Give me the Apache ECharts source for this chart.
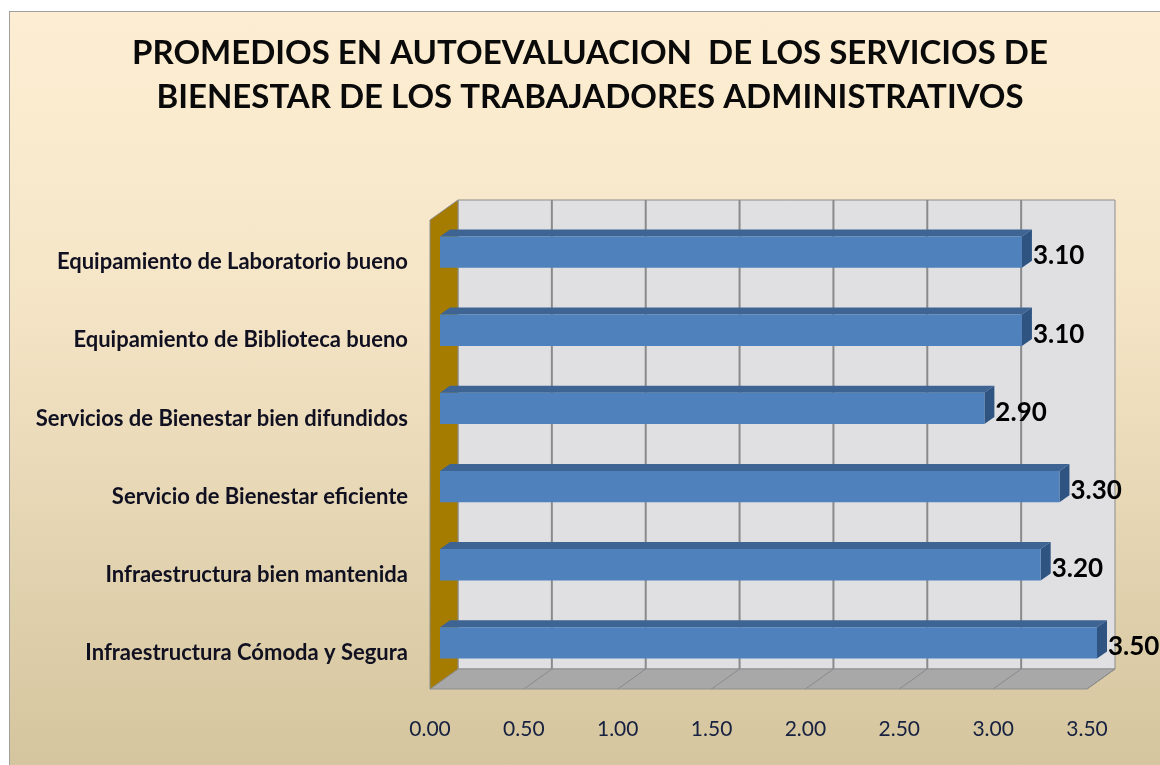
<!DOCTYPE html>
<html>
<head>
<meta charset="utf-8">
<script src="https://cdn.jsdelivr.net/npm/echarts@6/dist/echarts.min.js"></script>
<style>
    html, body { margin: 0; padding: 0; background: #fff; }
    .frame {
        position: absolute; left: 9px; top: 11px; width: 1160px; height: 770px;
        border: 1px solid #a0a0a0;
        background: linear-gradient(to bottom, #fdeed3 0%, #f6e6c8 35%, #d3c49d 100%);
    }
    #main { position: absolute; left: 0; top: 0; width: 1160px; height: 765px; }
</style>
</head>
<body>
<div class="frame"></div>
<div id="main"></div>
<script>
// categories from bottom to top (category axis draws the first one at the bottom)
var categories = [
    'Infraestructura Cómoda y Segura',
    'Infraestructura bien mantenida',
    'Servicio de Bienestar eficiente',
    'Servicios de Bienestar bien difundidos',
    'Equipamiento de Biblioteca bueno',
    'Equipamiento de Laboratorio bueno'
]
var promedios = [3.5, 3.2, 3.3, 2.9, 3.1, 3.1]
var xTicks = [0, 0.5, 1, 1.5, 2, 2.5, 3, 3.5]

// 3d offsets: back wall and front floor edge relative to the bar plane
var BACK = [18, -13]
var FRONT = [-10, 7]
var BAR_DEPTH = [10, -7]

function renderWalls(params, api) {
    var cs = params.coordSys
    var left = cs.x, right = cs.x + cs.width, top = cs.y, bottom = cs.y + cs.height
    var children = []
    // back wall
    children.push({
        type: 'polygon',
        shape: { points: [
            [left + BACK[0], top + BACK[1]], [right + BACK[0], top + BACK[1]],
            [right + BACK[0], bottom + BACK[1]], [left + BACK[0], bottom + BACK[1]]
        ] },
        style: { fill: '#e0e0e3', stroke: '#8c8c8c', lineWidth: 1 }
    })
    // floor
    children.push({
        type: 'polygon',
        shape: { points: [
            [left + FRONT[0], bottom + FRONT[1]], [right + FRONT[0], bottom + FRONT[1]],
            [right + BACK[0], bottom + BACK[1]], [left + BACK[0], bottom + BACK[1]]
        ] },
        style: { fill: '#a8a8a8', stroke: '#8f8f8f', lineWidth: 1 }
    })
    // grid lines on wall and floor
    xTicks.forEach(function(t) {
        var x = api.coord([t, 0])[0]
        if (t > 0 && t < xTicks[xTicks.length - 1]) {
            children.push({
                type: 'line',
                shape: { x1: x + BACK[0], y1: top + BACK[1], x2: x + BACK[0], y2: bottom + BACK[1] },
                style: { stroke: '#8a8a8a', lineWidth: 2 }
            })
        }
        if (t > 0) {
            children.push({
                type: 'line',
                shape: { x1: x + FRONT[0], y1: bottom + FRONT[1], x2: x + BACK[0], y2: bottom + BACK[1] },
                style: { stroke: '#8a8a8a', lineWidth: 1 }
            })
        }
    })
    // side wall (gold)
    children.push({
        type: 'polygon',
        shape: { points: [
            [left + FRONT[0], top + FRONT[1]], [left + BACK[0], top + BACK[1]],
            [left + BACK[0], bottom + BACK[1]], [left + FRONT[0], bottom + FRONT[1]]
        ] },
        style: { fill: '#a67c00', stroke: '#8a8a8a', lineWidth: 1 }
    })
    return { type: 'group', children: children }
}

function renderBar(params, api) {
    var idx = api.value(1)
    var start = api.coord([0, idx])
    var end = api.coord([api.value(0), idx])
    var h = api.size([0, 1])[1] * 0.4
    var x0 = start[0], x1 = end[0], yT = start[1] - h / 2, yB = start[1] + h / 2
    var dx = BAR_DEPTH[0], dy = BAR_DEPTH[1]
    return {
        type: 'group',
        children: [
            { type: 'polygon', shape: { points: [[x0, yT], [x1, yT], [x1 + dx, yT + dy], [x0 + dx, yT + dy]] },
                style: { fill: '#3d6493' } },
            { type: 'polygon', shape: { points: [[x1, yT], [x1 + dx, yT + dy], [x1 + dx, yB + dy], [x1, yB]] },
                style: { fill: '#2f5482' } },
            { type: 'rect', shape: { x: x0, y: yT, width: x1 - x0, height: h },
                style: { fill: '#4f81bd' } },
            { type: 'text', x: x1 + dx + 1, y: start[1] + 4,
                style: { text: api.value(0).toFixed(2), fill: '#000', font: 'bold 26px Lato',
                    verticalAlign: 'middle', align: 'left' } }
        ]
    }
}

var myChart = echarts.init(document.getElementById('main'))
var option = {
    animation: false,
    title: {
        text: 'PROMEDIOS EN AUTOEVALUACION  DE LOS SERVICIOS DE\nBIENESTAR DE LOS TRABAJADORES ADMINISTRATIVOS',
        left: 585,
        top: 26,
        textAlign: 'center',
        textStyle: { fontFamily: 'Lato', fontWeight: 'bold', fontSize: 33, lineHeight: 44, color: '#0a0a0a' }
    },
    grid: { left: 440, right: 63, top: 213, bottom: 83, containLabel: false },
    xAxis: {
        type: 'value',
        min: 0,
        max: 3.5,
        interval: 0.5,
        splitLine: { show: false },
        axisLine: { show: false },
        axisTick: { show: false },
        axisLabel: {
            margin: 37,
            padding: [0, 20, 0, 0],
            fontFamily: 'Lato',
            fontSize: 21,
            color: '#16203f',
            formatter: function(v) { return v.toFixed(2) }
        }
    },
    yAxis: {
        type: 'category',
        data: categories,
        axisLine: { show: false },
        axisTick: { show: false },
        splitLine: { show: false },
        axisLabel: {
            margin: 32,
            verticalAlign: 'top',
            lineHeight: 20,
            fontFamily: 'Lato',
            fontWeight: 'bold',
            fontSize: 22,
            color: '#101020'
        }
    },
    series: [
        {
            name: 'walls',
            type: 'custom',
            renderItem: renderWalls,
            data: [[0, 0]],
            silent: true,
            z: 1
        },
        {
            name: 'promedio',
            type: 'custom',
            renderItem: renderBar,
            encode: { x: 0, y: 1 },
            data: promedios.map(function(v, i) { return [v, i] }),
            z: 2
        }
    ]
}
myChart.setOption(option)
</script>
</body>
</html>
